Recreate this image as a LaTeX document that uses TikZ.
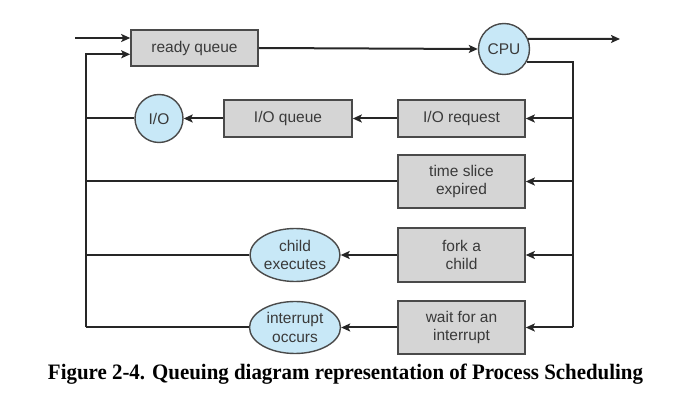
\documentclass[tikz,border=0pt]{standalone}
\usepackage{fontspec}
\setmainfont{Liberation Sans}
\newfontfamily\capfont{Liberation Serif}
\usetikzlibrary{shapes.geometric,arrows.meta}
\definecolor{boxfill}{HTML}{D5D5D5}
\definecolor{boxline}{HTML}{4A4A4A}
\definecolor{bluefill}{HTML}{C8E8F7}
\definecolor{linecol}{HTML}{262626}
\definecolor{txtcol}{HTML}{3A3A3A}
\begin{document}
\begin{tikzpicture}[x=1pt,y=-1pt,
  every node/.style={font=\fontsize{15.5}{18.5}\selectfont, text=txtcol, align=center, inner sep=0pt},
  qbox/.style={draw=boxline, fill=boxfill, line width=1.6pt, minimum width=127pt},
  circ/.style={draw=boxline, fill=bluefill, line width=1.4pt, circle},
  ell/.style={draw=boxline, fill=bluefill, line width=1.4pt, ellipse, minimum width=90pt, minimum height=53pt},
  conn/.style={draw=linecol, line width=2pt},
  arr/.style={conn, -{Stealth[length=9pt,width=8pt,inset=2pt]}}
]
\useasboundingbox (0,0) rectangle (697,406);
% nodes
\node[qbox, minimum height=36pt] (rq) at (194.5,48) {ready queue};
\node[circ, minimum size=51pt] (cpu) at (504,49) {CPU};
\node[qbox, minimum height=37pt] (iorq) at (461.5,118.5) {I/O request};
\node[qbox, minimum height=37pt, minimum width=128pt] (ioq) at (288,118.5) {I/O queue};
\node[circ, minimum size=48pt] (io) at (159,118.5) {I/O};
\node[qbox, minimum height=53pt] (ts) at (461.5,181.5) {time slice\\expired};
\node[qbox, minimum height=54pt] (fork) at (461.5,255) {fork a\\child};
\node[ell] (child) at (295,255) {child\\executes};
\node[qbox, minimum height=53pt] (wait) at (461.5,327.5) {wait for an\\interrupt};
\node[ell, minimum width=91pt, minimum height=52pt] (intr) at (295,327.5) {interrupt\\occurs};
% helper coordinates
\coordinate (in) at (75,38);
\coordinate (out) at (620,39);
\coordinate (R) at (573,62);
\coordinate (L) at (86,54.3);
\coordinate (Lb) at (86,327.5);
\coordinate (Rb) at (573,327.5);
% connectors
\draw[arr] (in) -- (rq.west |- in);
\draw[arr] (Lb) -- (L) -- (rq.west |- L);
\draw[arr] (rq.east) -- (cpu.west);
\draw[arr] (cpu.23.6) -- (out);
\draw[conn] (cpu.-30) -| (Rb);
\draw[arr] (iorq.east -| R) -- (iorq.east);
\draw[arr] (ts.east -| R) -- (ts.east);
\draw[arr] (fork.east -| R) -- (fork.east);
\draw[arr] (Rb) -- (wait.east);
\draw[arr] (iorq.west) -- (ioq.east);
\draw[arr] (ioq.west) -- (io.east);
\draw[conn] (io.west) -- (io.west -| L);
\draw[conn] (ts.west) -- (ts.west -| L);
\draw[arr] (fork.west) -- (child.east);
\draw[conn] (child.west) -- (child.west -| L);
\draw[arr] (wait.west) -- (intr.east);
\draw[conn] (intr.west) -- (Lb);
% caption
\node[text=black, anchor=base] (cap) at (345.5,379) {\resizebox{595pt}{15.5pt}{\capfont\bfseries Figure 2-4. Queuing diagram representation of Process Scheduling}};
\end{tikzpicture}
\end{document}
